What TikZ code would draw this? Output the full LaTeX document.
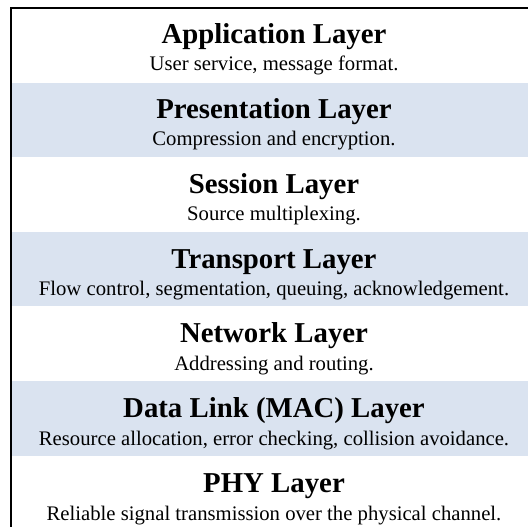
\documentclass[tikz,border=0pt]{standalone}
\usepackage{fontspec}
\setmainfont{Liberation Serif}
\definecolor{band}{RGB}{218,227,240}
\tikzset{
  ttl/.style={anchor=base, inner sep=0pt, font=\fontsize{28.8}{32}\selectfont\bfseries},
  sub/.style={anchor=base, inner sep=0pt, font=\fontsize{20.7}{24}\selectfont},
  bandfill/.style={fill=band, draw=none},
  frame/.style={draw=black, line width=1.7pt}
}
\begin{document}
\begin{tikzpicture}[x=1pt, y=-1pt]
\clip (0,0) rectangle (528,527);
% shaded bands (layers 2, 4, 6)
\foreach \i in {1,3,5}{
  \fill[band] (11.6, {8+74.6*\i}) rectangle (560, {8+74.6*(\i+1)});
}
% outer frame (right and bottom edges lie outside the picture)
\draw[frame] (10.8,8) rectangle (540,540);
% texts
\def\cx{274}
\node[ttl] (t1) at (\cx, {8+74.6*0+35.3+0.3*0}) {Application Layer};
\node[sub] (s1) at (\cx, {8+74.6*0+62.8+0.35*0}) {User service, message format.};
\node[ttl] (t2) at (\cx, {8+74.6*1+35.3+0.3*1}) {Presentation Layer};
\node[sub] (s2) at (\cx, {8+74.6*1+62.8+0.35*1}) {Compression and encryption.};
\node[ttl] (t3) at (\cx, {8+74.6*2+35.3+0.3*2}) {Session Layer};
\node[sub] (s3) at (\cx, {8+74.6*2+62.8+0.35*2}) {Source multiplexing.};
\node[ttl] (t4) at (\cx, {8+74.6*3+35.3+0.3*3}) {Transport Layer};
\node[sub] (s4) at (\cx, {8+74.6*3+62.8+0.35*3}) {Flow control, segmentation, queuing, acknowledgement.};
\node[ttl] (t5) at (\cx, {8+74.6*4+35.3+0.3*4}) {Network Layer};
\node[sub] (s5) at (\cx, {8+74.6*4+62.8+0.35*4}) {Addressing and routing.};
\node[ttl] (t6) at (\cx, {8+74.6*5+35.3+0.3*5}) {Data Link (MAC) Layer};
\node[sub] (s6) at (\cx, {8+74.6*5+62.8+0.35*5}) {Resource allocation, error checking, collision avoidance.};
\node[ttl] (t7) at (\cx, {8+74.6*6+35.3+0.3*6}) {PHY Layer};
\node[sub] (s7) at (\cx, {8+74.6*6+62.8+0.35*6}) {Reliable signal transmission over the physical channel.};
\end{tikzpicture}
\end{document}
